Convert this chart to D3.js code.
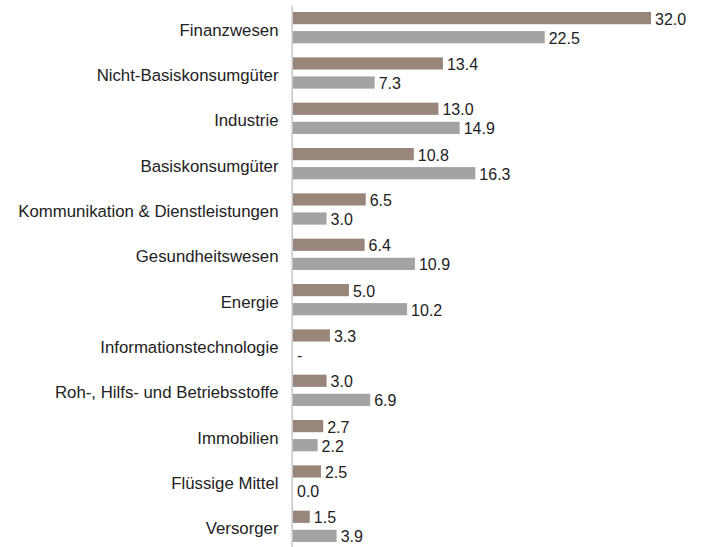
<!DOCTYPE html>
<html><head><meta charset="utf-8">
<script src="https://cdn.jsdelivr.net/npm/d3@7"></script>
<style>body{margin:0;background:#fff}</style>
</head><body>
<svg id="chart" width="704" height="547"></svg>
<script>
const categories = ["Finanzwesen","Nicht-Basiskonsumgüter","Industrie","Basiskonsumgüter","Kommunikation & Dienstleistungen","Gesundheitswesen","Energie","Informationstechnologie","Roh-, Hilfs- und Betriebsstoffe","Immobilien","Flüssige Mittel","Versorger"];
const seriesA = [32.0,13.4,13.0,10.8,6.5,6.4,5.0,3.3,3.0,2.7,2.5,1.5];
const seriesB = [22.5,7.3,14.9,16.3,3.0,10.9,10.2,null,6.9,2.2,0.0,3.9];
const seriesNames = ["A","B"];
const colors = ["#978679","#a3a3a3"];

const svg = d3.select("#chart");
const x0 = 293;
const x = d3.scaleLinear().domain([0,32]).range([x0, 651]);
const y = d3.scaleBand().domain(categories).range([5, 549]);
const ys = d3.scaleBand().domain(seriesNames).range([7, 38.3]).paddingInner(0.36);
const font = "'Liberation Sans', Arial, sans-serif";

const rows = categories.map((c,i)=>({c, vals:[seriesA[i], seriesB[i]]}));

const g = svg.selectAll("g.row").data(rows).join("g").attr("class","row")
  .attr("transform", d=>`translate(0,${y(d.c)})`);

g.append("text")
  .attr("x", 278.5).attr("y", y.bandwidth()/2 + 2)
  .attr("dy","0.35em").attr("text-anchor","end")
  .style("font-family", font).style("font-size","16.8px").attr("fill","#222")
  .text(d=>d.c);

const bars = g.selectAll("g.bar").data(d=>d.vals.map((v,j)=>({v, s:seriesNames[j], j}))).join("g").attr("class","bar");
bars.append("rect")
  .attr("x", x(0)).attr("y", d=>ys(d.s))
  .attr("width", d=> d.v==null ? 0 : x(d.v)-x(0))
  .attr("height", ys.bandwidth())
  .attr("fill", d=>colors[d.j]);
bars.append("text")
  .attr("x", d=> (d.v==null ? x(0) : x(d.v)) + 4)
  .attr("y", d=>ys(d.s)+ys.bandwidth()/2 + 1)
  .attr("dy","0.35em")
  .style("font-family", font).style("font-size","16px").attr("fill","#222")
  .text(d=> d.v==null ? "-" : d.v.toFixed(1));

svg.append("line").attr("x1",292.2).attr("x2",292.2).attr("y1",6).attr("y2",547)
  .attr("stroke","#c6c6c6").attr("stroke-width",1.5);
</script>
</body></html>
